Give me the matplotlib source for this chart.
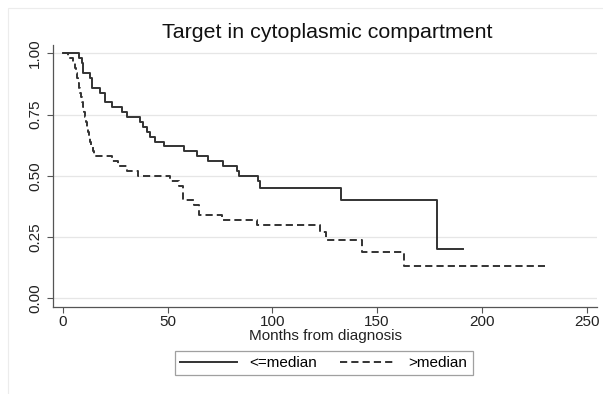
import matplotlib
matplotlib.use("Agg")
import matplotlib.pyplot as plt
from matplotlib.patches import Rectangle

plt.rcParams['font.family'] = ['Liberation Sans', 'DejaVu Sans']

# Kaplan-Meier steps (months, survival)
low_t = [0, 7.6, 8.9, 9.6, 12.8, 13.7, 17.7, 20.1, 23.2, 28, 30.7, 36.8, 38.3, 40,
         41.5, 44, 48, 57.6, 63.9, 69.4, 76.6, 82.9, 84.2, 93.2, 94, 132.6, 178.4, 191.2]
low_s = [1.0, 0.98, 0.96, 0.92, 0.90, 0.86, 0.84, 0.80, 0.78, 0.76, 0.74, 0.72, 0.70, 0.68,
         0.66, 0.64, 0.62, 0.60, 0.58, 0.56, 0.54, 0.52, 0.50, 0.48, 0.45, 0.40, 0.20, 0.20]

high_t = [0, 2.5, 5.0, 5.5, 6.0, 6.5, 7.0, 7.5, 8.0, 8.5, 9.0, 9.6, 10.2, 10.6, 11.0,
          11.5, 12.0, 12.5, 13.0, 13.6, 14.2, 15.0, 23.2, 26.5, 30.7, 36, 51.1, 55.5,
          57.4, 62.6, 65.1, 75.8, 92.5, 122.7, 125.6, 142.6, 162.6, 230.2]
high_s = [1.0, 0.98, 0.96, 0.94, 0.92, 0.90, 0.88, 0.86, 0.84, 0.82, 0.80, 0.78, 0.76, 0.74, 0.72,
          0.70, 0.68, 0.66, 0.64, 0.62, 0.60, 0.58, 0.56, 0.54, 0.52, 0.50, 0.48, 0.46,
          0.40, 0.38, 0.34, 0.32, 0.30, 0.27, 0.24, 0.19, 0.13, 0.13]

x_ticks = [0, 50, 100, 150, 200, 250]
y_ticks = [0.0, 0.25, 0.5, 0.75, 1.0]
y_labels = ['0.00', '0.25', '0.50', '0.75', '1.00']

W, H = 603, 394
fig = plt.figure(figsize=(W / 100, H / 100), dpi=100)
ax = fig.add_axes([53.3 / W, 1 - 307 / H, (597 - 53.3) / W, (307 - 45) / H])

# faint outer frame
fig.patches.append(Rectangle((8 / W, -0.05), 1.1, 1 - 8 / H + 0.05, transform=fig.transFigure,
                             fill=False, edgecolor='#ececec', linewidth=0.8))

line_col = '#333333'
ax.step(low_t, low_s, where='post', color=line_col, lw=1.4, label='<=median')
ax.step(high_t, high_s, where='post', color=line_col, lw=1.4,
        linestyle=(0, (3.7, 2.1)), label='>median')

ax.set_xlim(-4.63, 255)
ax.set_ylim(-0.0355, 1.034)
ax.set_xticks(x_ticks)
ax.set_yticks(y_ticks)
ax.set_yticklabels(y_labels, rotation=90, va='center')
ax.grid(axis='y', color='#e6e6e6', lw=0.9)
ax.set_axisbelow(True)
for s in ['top', 'right']:
    ax.spines[s].set_visible(False)
for s in ['left', 'bottom']:
    ax.spines[s].set_color('#555555')
    ax.spines[s].set_linewidth(0.9)
ax.tick_params(colors='#555555', labelcolor='#222222', length=4, width=0.8,
               labelsize=11, pad=2)
ax.tick_params(axis='y', pad=4)

ax.set_xlabel('Months from diagnosis', fontsize=11, color='#222222', labelpad=0)
fig.text(327 / W, 1 - 32 / H, 'Target in cytoplasmic compartment', fontsize=15.4,
         ha='center', va='center', color='#111111')

leg = fig.legend(loc='center', bbox_to_anchor=(324 / W, 1 - 363 / H), ncol=2,
                 fontsize=11, frameon=True, fancybox=False, handlelength=3.7,
                 handletextpad=0.8, columnspacing=1.5, borderpad=0.35)
leg.get_frame().set_edgecolor('#888888')
leg.get_frame().set_linewidth(0.9)

fig.savefig('out.png', dpi=100)
